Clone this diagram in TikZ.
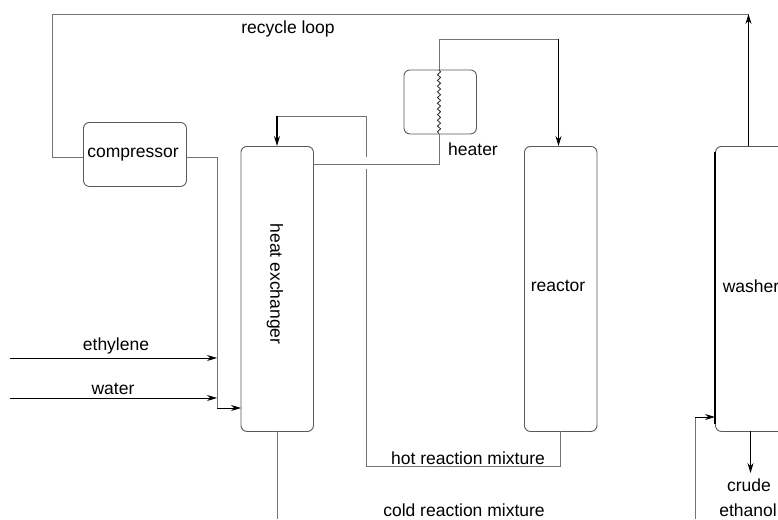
\documentclass[tikz,border=0pt]{standalone}
\usepackage{fontspec}
\setmainfont{Liberation Sans}
\usetikzlibrary{arrows.meta,decorations.pathmorphing}
\tikzset{
  unit/.style={draw=black!65,line width=0.9pt,rounded corners=6pt,inner sep=0pt,anchor=north west},
  pipe/.style={draw=black!55,line width=0.9pt},
  feed/.style={draw=black,line width=0.85pt},
  flow/.style={-{Stealth[length=10pt,width=6pt]}},
  lbl/.style={font=\fontsize{17.5}{19}\selectfont,text=black,inner sep=0pt,anchor=center},
  heatcoil/.style={draw=black!85,line width=0.8pt,decorate,decoration={snake,amplitude=1.6pt,segment length=5.7pt}}
}
\begin{document}
\begin{tikzpicture}[x=1pt,y=-1pt]
\useasboundingbox (0,0) rectangle (778,519);
\clip (0,0) rectangle (778,519);
\node[unit,minimum width=103pt,minimum height=64pt] (comp) at (83,122) {};
\node[unit,minimum width=72.5pt,minimum height=285pt] (hx) at (240.5,146) {};
\node[unit,minimum width=72.5pt,minimum height=64pt] (heater) at (403.5,69.5) {};
\node[unit,minimum width=72.5pt,minimum height=285pt] (reactor) at (524,146) {};
\node[unit,minimum width=72.5pt,minimum height=285pt] (washer) at (715,146) {};
\draw[black,line width=1.3pt] (715,152) -- (715,424);
\coordinate (loopTL) at (52,14);
\coordinate (loopTR) at (748.5,14);
\coordinate (ethS) at (10,358);
\coordinate (ethE) at (217,358);
\coordinate (watS) at (10,398);
\coordinate (watE) at (217,398);
\coordinate (mixJ) at (217,408);
\coordinate (hotTop) at (366.5,116);
\coordinate (hotGapA) at (366.5,157);
\coordinate (hotGapB) at (366,169);
\coordinate (hotBot) at (366,466);
\coordinate (coldEnd) at (277,519);
\coordinate (feedS) at (695,519);
\coordinate (htIn) at (439,164);
\coordinate (htTop) at (439,39);
% recycle loop
\draw[pipe] (comp.west |- 0,157) -- (52,157) -- (loopTL) -- (loopTR);
\draw[feed,flow] (748.5,146) -- (loopTR);
% compressor to exchanger
\draw[pipe] (186,157) -- (217,157) -- (mixJ);
\draw[feed,flow] (mixJ) -- (241,408);
\draw[feed,flow] (ethS) -- (ethE);
\draw[feed,flow] (watS) -- (watE);
% exchanger return
\draw[pipe] (hotGapA) -- (hotTop) -- (277,116);
\draw[black,line width=1.2pt,flow] (277,116) -- (277,146);
\draw[pipe] (hotGapB) -- (hotBot) -- (560.5,466) -- (560.5,431);
\draw[pipe] (277,431) -- (coldEnd);
% heater
\draw[pipe] (313,164) -- (htIn) -- (439,133.5);
\draw[heatcoil] (439,133.5) -- (439,69.5);
\draw[pipe] (439,69.5) -- (htTop) -- (558.5,39);
\draw[feed,flow] (558.5,39) -- (558.5,146);
% washer
\draw[pipe] (feedS) -- (695,417);
\draw[feed,flow] (695,417) -- (715,417);
\draw[feed,flow] (750.5,431) -- (750.5,473);
% labels
\node[lbl] (t1) at (288,29) {recycle loop};
\node[lbl] (t2) at (133,155) {compressor};
\node[lbl] (t3) at (473,149) {heater};
\node[lbl,rotate=-90] (t4) at (275,284) {heat exchanger};
\node[lbl] (t5) at (558,286) {reactor};
\node[lbl] (t6) at (751,286) {washer};
\node[lbl] (t7) at (116,346) {ethylene};
\node[lbl] (t8) at (113,389) {water};
\node[lbl] (t9) at (468,458) {hot reaction mixture};
\node[lbl] (t10) at (464,510) {cold reaction mixture};
\node[lbl] (t11) at (749,485) {crude};
\node[lbl] (t12) at (748,510) {ethanol};
\end{tikzpicture}
\end{document}
